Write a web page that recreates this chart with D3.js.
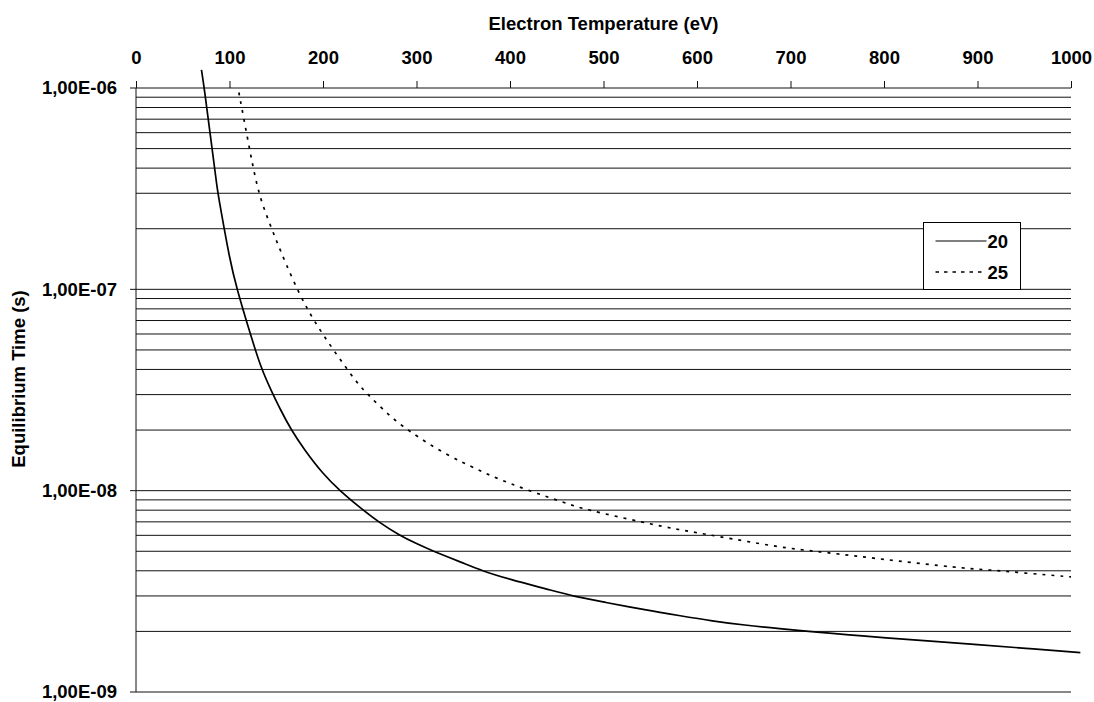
<!DOCTYPE html>
<html>
<head>
<meta charset="utf-8">
<script src="https://cdn.jsdelivr.net/npm/d3@7"></script>
<style>
  body { margin: 0; background: #fff; }
  text { font-family: "Liberation Sans", Arial, sans-serif; font-weight: bold; }
</style>
</head>
<body>
<div id="container"></div>
<script>
(function(){
  "use strict";
  // electron temperature (eV) / equilibrium time (s)
  var series20 = [
    [70, 1.23e-6], [73, 1.0e-6], [80, 5.6e-7], [87, 3.1e-7], [90, 2.6e-7],
    [100, 1.42e-7], [108, 1.0e-7], [120, 6.5e-8], [134, 4.0e-8], [146, 3.05e-8],
    [154, 2.55e-8], [166, 2.0e-8], [180, 1.6e-8], [200, 1.21e-8], [218, 1.0e-8],
    [240, 8.2e-9], [261, 6.9e-9], [282, 6.0e-9], [300, 5.45e-9], [318, 5.0e-9],
    [350, 4.37e-9], [370, 4.0e-9], [400, 3.62e-9], [440, 3.24e-9], [470, 2.97e-9],
    [500, 2.8e-9], [546, 2.55e-9], [580, 2.4e-9], [617, 2.25e-9], [650, 2.15e-9],
    [690, 2.06e-9], [720, 2.0e-9], [764, 1.92e-9], [800, 1.86e-9], [850, 1.79e-9],
    [900, 1.72e-9], [950, 1.65e-9], [1010, 1.57e-9]
  ];
  var series25 = [
    [110, 9.5e-7], [120, 5.4e-7], [130, 3.1e-7], [140, 2.3e-7], [150, 1.75e-7],
    [160, 1.35e-7], [175, 9.4e-8], [190, 7.0e-8], [211, 5.0e-8], [236, 3.44e-8],
    [248, 3.0e-8], [270, 2.38e-8], [290, 2.0e-8], [332, 1.5e-8], [368, 1.26e-8],
    [382, 1.17e-8], [420, 1.0e-8], [459, 8.7e-9], [478, 8.1e-9], [546, 6.9e-9],
    [580, 6.4e-9], [617, 6.0e-9], [689, 5.22e-9], [730, 4.98e-9], [771, 4.73e-9],
    [810, 4.5e-9], [880, 4.14e-9], [906, 4.06e-9], [950, 3.9e-9], [1000, 3.73e-9]
  ];
  var seriesNames = ["20", "25"];
  var xTicks = [0, 100, 200, 300, 400, 500, 600, 700, 800, 900, 1000];
  var yMajor = [1e-9, 1e-8, 1e-7, 1e-6];
  var yLabels = ["1,00E-09", "1,00E-08", "1,00E-07", "1,00E-06"];
  var yMinor = [];
  [1e-9, 1e-8, 1e-7].forEach(function(d) {
    for (var k = 2; k <= 9; k++) yMinor.push(d * k);
  });

  var width = 1094, height = 702;
  var left = 136, right = 1071, top = 88, bottom = 692;
  var fontSize = 18.5;

  var svg = d3.select("#container").append("svg")
      .attr("width", width)
      .attr("height", height);

  var xScale = d3.scaleLinear().domain([0, 1000]).range([left, right]);
  var yScale = d3.scaleLog().domain([1e-9, 1e-6]).range([bottom, top]);

  // gridlines
  svg.append("g").selectAll("line").data(yMinor).enter().append("line")
      .attr("x1", left).attr("x2", right)
      .attr("y1", function(d) { return yScale(d); })
      .attr("y2", function(d) { return yScale(d); })
      .attr("stroke", "#111").attr("stroke-width", 1);
  svg.append("g").selectAll("line").data(yMajor).enter().append("line")
      .attr("x1", left - 6).attr("x2", right)
      .attr("y1", function(d) { return yScale(d); })
      .attr("y2", function(d) { return yScale(d); })
      .attr("stroke", "#111").attr("stroke-width", 1);

  // top x axis
  var xAxis = d3.axisTop(xScale).tickValues(xTicks).tickSize(7).tickSizeOuter(0)
      .tickPadding(17).tickFormat(d3.format("d"));
  var xg = svg.append("g").attr("transform", "translate(0," + top + ")").call(xAxis);
  xg.select(".domain").remove();
  xg.selectAll("line").attr("stroke", "#111");
  xg.selectAll("text").attr("font-size", fontSize).attr("fill", "#000")
      .attr("font-family", "Liberation Sans, Arial, sans-serif").attr("font-weight", "bold");

  // left y axis
  var yAxis = d3.axisLeft(yScale).tickValues(yMajor).tickSize(0).tickPadding(19)
      .tickFormat(function(d, i) { return yLabels[i]; });
  var yg = svg.append("g").attr("transform", "translate(" + left + ",0)").call(yAxis);
  yg.select(".domain").remove();
  yg.selectAll("text").attr("font-size", fontSize).attr("fill", "#000")
      .attr("font-family", "Liberation Sans, Arial, sans-serif").attr("font-weight", "bold");
  svg.append("line")
      .attr("x1", left).attr("x2", left).attr("y1", top).attr("y2", bottom)
      .attr("stroke", "#111").attr("stroke-width", 1);

  // titles
  svg.append("text")
      .attr("x", (left + right) / 2).attr("y", 30)
      .attr("text-anchor", "middle").attr("font-size", fontSize)
      .text("Electron Temperature (eV)");
  svg.append("text")
      .attr("transform", "translate(25," + 379 + ") rotate(-90)")
      .attr("text-anchor", "middle").attr("font-size", fontSize)
      .text("Equilibrium Time (s)");

  // curves
  var line = d3.line()
      .x(function(d) { return xScale(d[0]); })
      .y(function(d) { return yScale(d[1]); })
      .curve(d3.curveBasis);
  svg.append("path").datum(series20)
      .attr("d", line).attr("fill", "none")
      .attr("stroke", "#000").attr("stroke-width", 1.7);
  svg.append("path").datum(series25)
      .attr("d", line).attr("fill", "none")
      .attr("stroke", "#000").attr("stroke-width", 1.7)
      .attr("stroke-dasharray", "3,6");

  // legend
  var legend = svg.append("g").attr("transform", "translate(923.5,222.5)");
  legend.append("rect").attr("width", 97).attr("height", 67)
      .attr("fill", "#fff").attr("stroke", "#000").attr("stroke-width", 1);
  seriesNames.forEach(function(name, i) {
    var yy = 18.5 + i * 31;
    legend.append("line")
        .attr("x1", 12).attr("x2", 63).attr("y1", yy).attr("y2", yy)
        .attr("stroke", "#000").attr("stroke-width", i ? 1.7 : 1.2)
        .attr("stroke-dasharray", i ? "3.5,5" : null);
    legend.append("text")
        .attr("x", 64).attr("y", yy).attr("dy", "0.36em")
        .attr("font-size", fontSize).text(name);
  });
})();
</script>
</body>
</html>
